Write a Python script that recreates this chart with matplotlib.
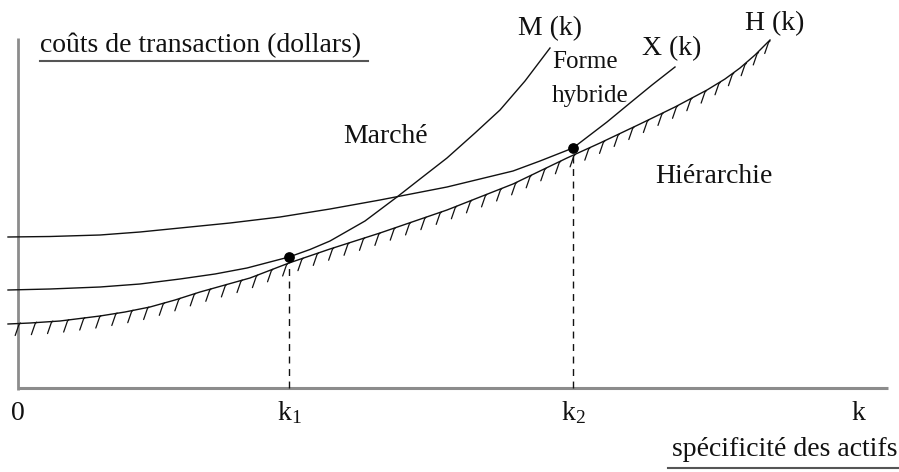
import numpy as np
import matplotlib
matplotlib.use("Agg")
import matplotlib.pyplot as plt

# ---- data (asset specificity k vs transaction cost) ----
m_k = [-1.0, 3.2, 8.2, 12.2, 16.2, 19.7, 22.9, 27.1, 29.2, 31.2, 34.7, 37.9,
       40.2, 42.9, 45.7, 48.2, 50.7, 53.2]
m_cost = [9.8, 9.9, 10.1, 10.4, 10.9, 11.4, 12.0, 13.1, 13.85, 14.7, 16.7, 19.1,
          20.9, 23.0, 25.5, 27.8, 30.7, 34.0]

x_k = [-1.0, 3.2, 8.2, 12.2, 16.2, 21.2, 26.2, 31.2, 36.2, 42.9, 49.5, 52.2,
       55.5, 57.2, 58.9, 61.2, 63.4, 65.7]
x_cost = [15.1, 15.15, 15.3, 15.6, 16.0, 16.5, 17.1, 17.9, 18.8, 20.1, 21.7, 22.7,
          24.0, 25.3, 26.6, 28.5, 30.3, 32.1]

h_k = [-1.0, 1.2, 4.2, 8.2, 10.7, 13.2, 15.7, 18.2, 23.2, 27.1, 31.2, 36.2,
       42.9, 49.5, 54.9, 58.2, 62.2, 65.7, 68.9, 70.7, 72.2, 73.7, 75.2]
h_cost = [6.4, 6.5, 6.7, 7.2, 7.6, 8.1, 8.8, 9.6, 11.0, 12.5, 13.9, 15.5,
          17.8, 20.4, 23.0, 24.5, 26.4, 28.1, 29.8, 30.9, 32.0, 33.3, 34.8]

k_points = [27.1, 55.5]
cost_points = [13.1, 24.0]

tick_positions = [0.0, 27.1, 55.5, 84.0]
tick_labels = ["0", "$\\mathregular{k_1}$", "$\\mathregular{k_2}$", "k"]

curve_labels = ["M (k)", "X (k)", "H (k)"]
region_labels = ["Marché", "Forme", "hybride", "Hiérarchie"]
y_title = "coûts de transaction (dollars)"
x_title = "spécificité des actifs"

# ---- figure ----
plt.rcParams['font.family'] = ['Liberation Serif', 'DejaVu Serif']
plt.rcParams['mathtext.fontset'] = 'custom'
plt.rcParams['mathtext.rm'] = 'Liberation Serif'

fig = plt.figure(figsize=(8.99, 4.72), dpi=100)
ax = fig.add_axes([0, 0, 1, 1])
ax.set_xlim(-1.8, 88.1)
ax.set_ylim(-8.4, 38.8)
ax.axis('off')

axis_col = '#8c8c8c'
ink = '#111111'
fs = 20

# axes
ax.plot([0, 0], [-0.2, 35.0], color=axis_col, lw=2.0, solid_capstyle='butt')
ax.plot([0, 87.0], [0, 0], color=axis_col, lw=2.2, solid_capstyle='butt')

# curves
ax.plot(m_k, m_cost, color=ink, lw=1.0)
ax.plot(x_k, x_cost, color=ink, lw=1.0)
ax.plot(h_k, h_cost, color=ink, lw=1.0)

# hatching under H(k)
hk = np.array(h_k)
hc = np.array(h_cost)
seg = np.hypot(np.diff(hk), np.diff(hc))
cum = np.concatenate([[0], np.cumsum(seg)])
for s in np.arange(1.1, cum[-1], 1.62):
    i = np.searchsorted(cum, s) - 1
    t = (s - cum[i]) / seg[i]
    px = hk[i] + t * (hk[i + 1] - hk[i])
    py = hc[i] + t * (hc[i + 1] - hc[i])
    ax.plot([px + 0.15, px, px - 0.38], [py + 0.05, py - 0.1, py - 1.2],
            color=ink, lw=0.9, solid_capstyle='round')

# dashed drop lines and points
for kp, cp in zip(k_points, cost_points):
    ax.plot([kp, kp], [0, cp], color=ink, lw=1.0, ls=(0, (5, 4)))
ax.scatter(k_points, cost_points, s=45, color='black', zorder=5)

# tick labels
for tp, tl in zip(tick_positions, tick_labels):
    ax.text(tp, -2.5, tl, ha='center', va='center', fontsize=fs, color=ink)

# curve labels
ax.text(53.2, 35.3, curve_labels[0], ha='center', va='baseline', fontsize=fs, color=ink)
ax.text(65.4, 33.3, curve_labels[1], ha='center', va='baseline', fontsize=fs, color=ink)
ax.text(75.7, 35.8, curve_labels[2], ha='center', va='baseline', fontsize=fs, color=ink)

# region labels
ax.text(32.5, 24.5, region_labels[0], ha='left', va='baseline', fontsize=fs, color=ink)
ax.text(53.4, 32.0, region_labels[1], ha='left', va='baseline', fontsize=fs - 2, color=ink)
ax.text(53.4, 28.6, region_labels[2], ha='left', va='baseline', fontsize=fs - 2, color=ink)
ax.text(63.7, 20.5, region_labels[3], ha='left', va='baseline', fontsize=fs, color=ink)

# axis titles with underline
ax.text(2.2, 33.6, y_title, ha='left', va='baseline', fontsize=fs, color=ink)
ax.plot([2.2, 35.0], [32.7, 32.7], color='#555555', lw=1.5)
ax.text(88.0, -6.8, x_title, ha='right', va='baseline', fontsize=fs, color=ink)
ax.plot([65.0, 88.0], [-8.0, -8.0], color='#555555', lw=1.5)

fig.savefig("out.png", dpi=100)
